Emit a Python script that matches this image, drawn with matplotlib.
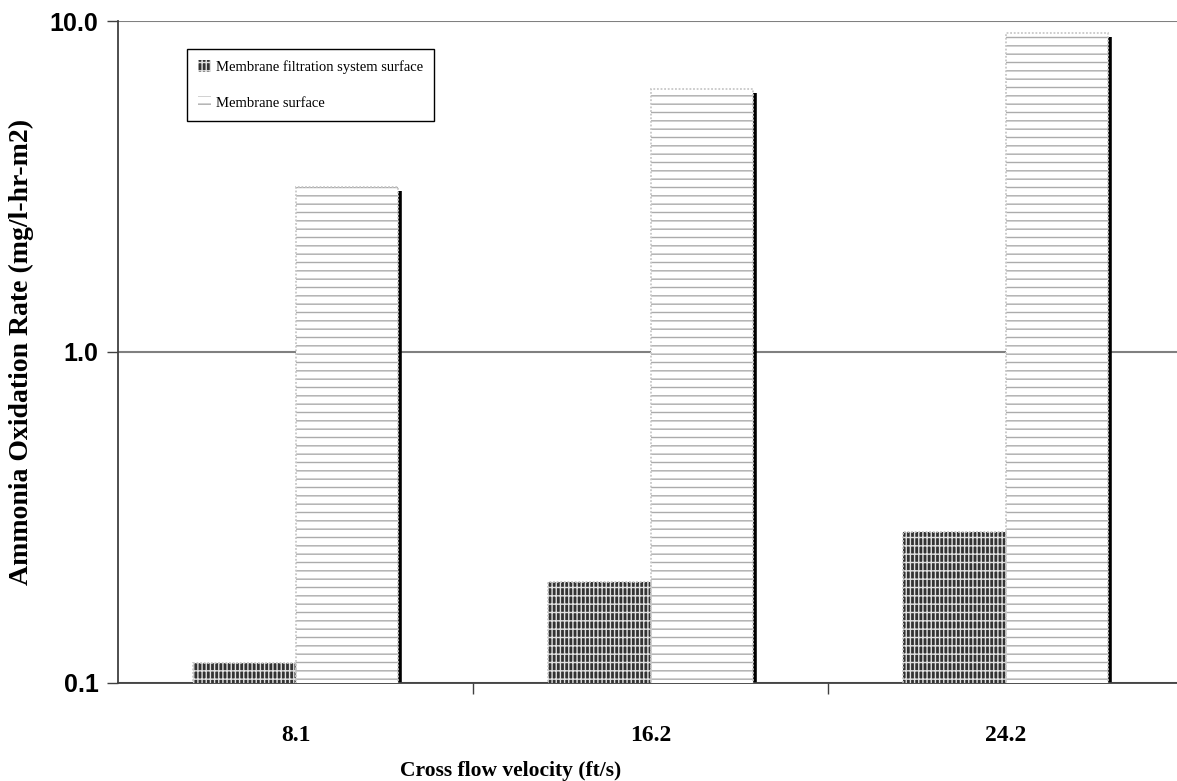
import numpy as np
import matplotlib
matplotlib.use('Agg')
import matplotlib.pyplot as plt

# Ammonia oxidation rate at each cross flow velocity
velocities = ['8.1', '16.2', '24.2']
system_surface = [0.115, 0.202, 0.286]
membrane_surface = [3.15, 6.23, 9.2]
series_labels = ['Membrane filtration system surface', 'Membrane surface']

plt.rcParams['hatch.linewidth'] = 1.0
serif = 'Liberation Serif'
sans = 'Liberation Sans'

fig = plt.figure(figsize=(11.77, 7.81), dpi=100)
ax = fig.add_axes([0.1003, 0.1255, 0.905, 0.8476])

x = np.arange(len(velocities))
w = 0.288

# hatched fills (hatch colour follows the edge colour)
dark = ax.bar(x - w / 2, system_surface, w, color='#333333', edgecolor='#e0e0e0',
              hatch='||||--', linewidth=0, zorder=3)
light = ax.bar(x + w / 2, membrane_surface, w, color='white', edgecolor='#ababab',
               hatch='--', linewidth=0, zorder=3)
# light grey outlines
ax.bar(x - w / 2, system_surface, w, fill=False, edgecolor='#c8c8c8', linewidth=1.3,
       linestyle=(0, (1, 1)), zorder=4)
ax.bar(x + w / 2, membrane_surface, w, fill=False, edgecolor='#c8c8c8', linewidth=1.3,
       linestyle=(0, (1, 1)), zorder=4)
# drop shadow on the right of the membrane bars
ax.vlines(x + w + 0.006, 0.1, np.array(membrane_surface) * 0.973, color='black',
          linewidth=2.6, zorder=2)

ax.set_yscale('log')
ax.set_ylim(0.1, 10)
ax.set_xlim(-0.5, 2.5)
ax.set_yticks([0.1, 1, 10])
ax.set_yticklabels(['0.1', '1.0', '10.0'], fontfamily=sans, fontweight='bold', fontsize=18)
ax.yaxis.set_minor_locator(matplotlib.ticker.NullLocator())
ax.tick_params(axis='y', length=8, width=1, color='#404040', pad=6)

ax.set_xticks([0.5, 1.5])
ax.set_xticklabels([])
ax.set_xticks(x, minor=True)
ax.set_xticklabels(velocities, minor=True, fontfamily=serif, fontweight='bold', fontsize=17)
ax.tick_params(axis='x', which='major', length=8, width=1, color='#404040')
ax.tick_params(axis='x', which='minor', length=0, pad=30)

ax.grid(axis='y', which='major', color='#808080', linewidth=1.5, zorder=0)
ax.set_axisbelow(True)
for side in ['top', 'right']:
    ax.spines[side].set_visible(False)
for side in ['left', 'bottom']:
    ax.spines[side].set_color('#404040')
    ax.spines[side].set_linewidth(1.3)

ax.set_xlabel('Cross flow velocity (ft/s)', fontfamily=serif, fontweight='bold',
              fontsize=15.5)
ax.xaxis.set_label_coords(0.369, -0.118)
ax.set_ylabel('Ammonia Oxidation Rate (mg/l-hr-m2)', fontfamily=serif, fontweight='bold',
              fontsize=20)
ax.yaxis.set_label_coords(-0.079, 0.5)

leg = ax.legend([dark, light], series_labels, loc='upper left',
                bbox_to_anchor=(0.065, 0.958), prop={'family': serif, 'size': 10.5},
                fancybox=False, framealpha=1, edgecolor='black', borderaxespad=0,
                handlelength=0.9, handleheight=0.9, handletextpad=0.3,
                labelspacing=1.5, borderpad=0.75)
leg.get_frame().set_linewidth(1)

plt.savefig('out.png', dpi=100)
plt.close()
